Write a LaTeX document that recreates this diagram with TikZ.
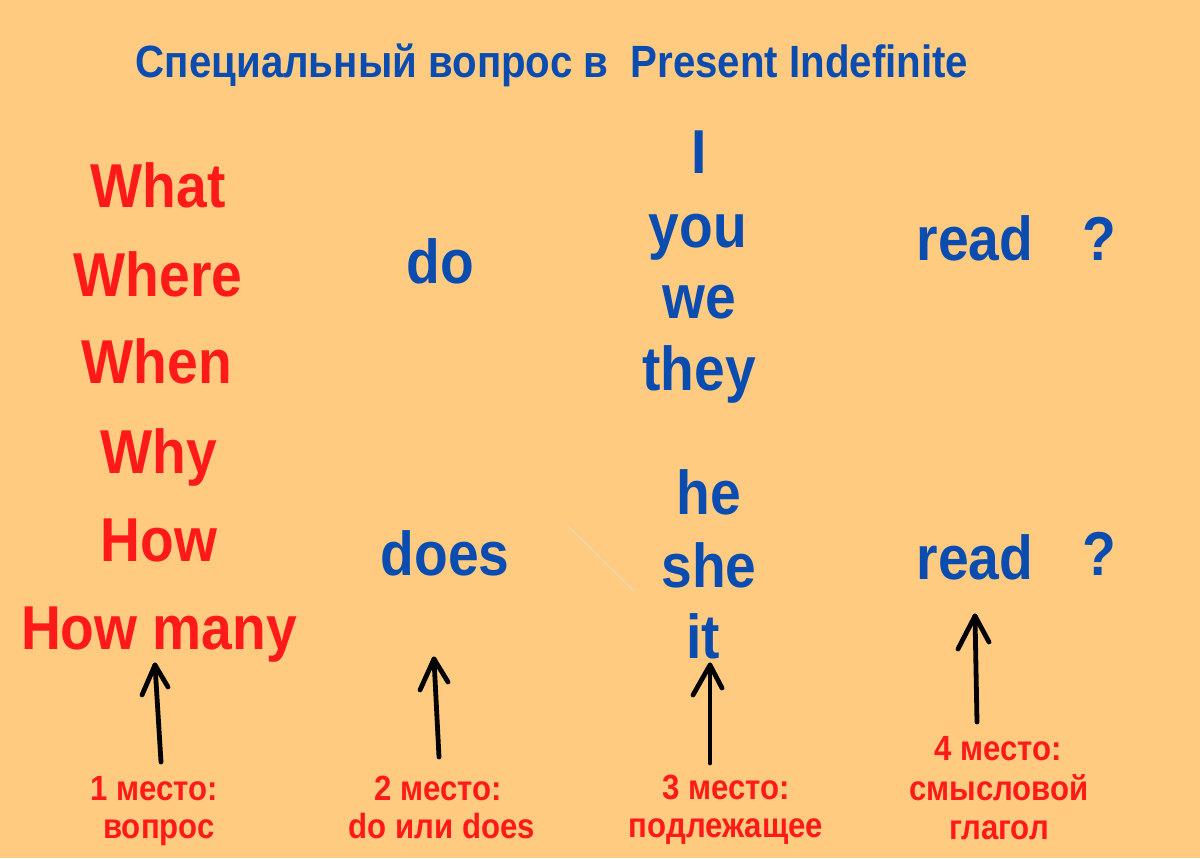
\documentclass[tikz,border=0pt]{standalone}
\usepackage{fontspec}
\newfontfamily\rob{Liberation Sans}[FakeStretch=0.89]
\definecolor{bgc}{HTML}{FFCB80}
\definecolor{bluec}{HTML}{0A4CAF}
\definecolor{redc}{HTML}{FF1A1A}
\definecolor{faintc}{HTML}{E8D6BC}
\tikzset{
  big/.style={anchor=base,inner sep=0pt,font=\rob\bfseries\fontsize{31pt}{31pt}\selectfont},
  qword/.style={big,text=redc},
  bword/.style={big,text=bluec},
  titletext/.style={anchor=base,inner sep=0pt,text=bluec,font=\rob\bfseries\fontsize{22.6pt}{24pt}\selectfont},
  lbl/.style={anchor=base,inner sep=0pt,text=redc,font=\rob\bfseries\fontsize{17.5pt}{18pt}\selectfont},
  handarrow/.style={draw=black,line width=2.4pt,line cap=round,line join=round},
  faint/.style={draw=faintc,line width=0.6pt}
}
\begin{document}
\begin{tikzpicture}[x=0.5pt,y=-0.5pt]
\fill[bgc] (0,0) rectangle (1200,858);
\useasboundingbox (0,0) rectangle (1200,858);

% title
\node[titletext] (title) at (552,77) {Специальный вопрос в\ \ Present Indefinite};

% question words
\node[qword] (what)  at (158,207) {What};
\node[qword] (where) at (158,296) {Where};
\node[qword] (when)  at (157,383) {When};
\node[qword] (why)   at (159,473) {Why};
\node[qword] (how)   at (159,561) {How};
\node[qword] (howmany) at (159,649) {How many};

% auxiliaries
\node[bword] (do)   at (440,283) {do};
\node[bword] (does) at (445,575) {does};

% pronouns
\node[bword] (pI)   at (699,173) {I};
\node[bword] (you)  at (698,247) {you};
\node[bword] (we)   at (699,318) {we};
\node[bword] (they) at (699,390) {they};
\node[bword] (he)   at (709,514) {he};
\node[bword] (she)  at (709,587) {she};
\node[bword] (it)   at (703,658) {it};

% verbs and question marks
\node[bword] (read1) at (975,260) {read};
\node[bword] (q1)    at (1099,260) {?};
\node[bword] (read2) at (975,579) {read};
\node[bword] (q2)    at (1099,575) {?};

% faint stroke
\coordinate (f1) at (568,526);
\coordinate (f2) at (634,591);
\draw[faint] (f1) -- (f2);

% arrows
\coordinate (a1t) at (155,665); \coordinate (a1b) at (161,762);
\coordinate (a1l) at (142,695); \coordinate (a1r) at (168,687);
\coordinate (a2t) at (434,659); \coordinate (a2b) at (439,757);
\coordinate (a2l) at (420,690); \coordinate (a2r) at (448,682);
\coordinate (a3t) at (710,665); \coordinate (a3b) at (710,763);
\coordinate (a3l) at (693,695); \coordinate (a3r) at (722,688);
\coordinate (a4t) at (975,616); \coordinate (a4b) at (977,722);
\coordinate (a4l) at (958,649); \coordinate (a4r) at (989,642);
\foreach \i in {1,2,3,4}{
  \draw[handarrow] (a\i b) -- (a\i t);
  \draw[handarrow] (a\i l) -- (a\i t) -- (a\i r);
}

% labels
\node[lbl] (l1a) at (154,800) {1 место:};
\node[lbl] (l1b) at (159,838) {вопрос};
\node[lbl] (l2a) at (438,800) {2 место:};
\node[lbl] (l2b) at (442,838) {do или does};
\node[lbl] (l3a) at (726,799) {3 место:};
\node[lbl] (l3b) at (726,837) {подлежащее};
\node[lbl] (l4a) at (998,760) {4 место:};
\node[lbl] (l4b) at (999,800) {смысловой};
\node[lbl] (l4c) at (999,839) {глагол};
\end{tikzpicture}
\end{document}
